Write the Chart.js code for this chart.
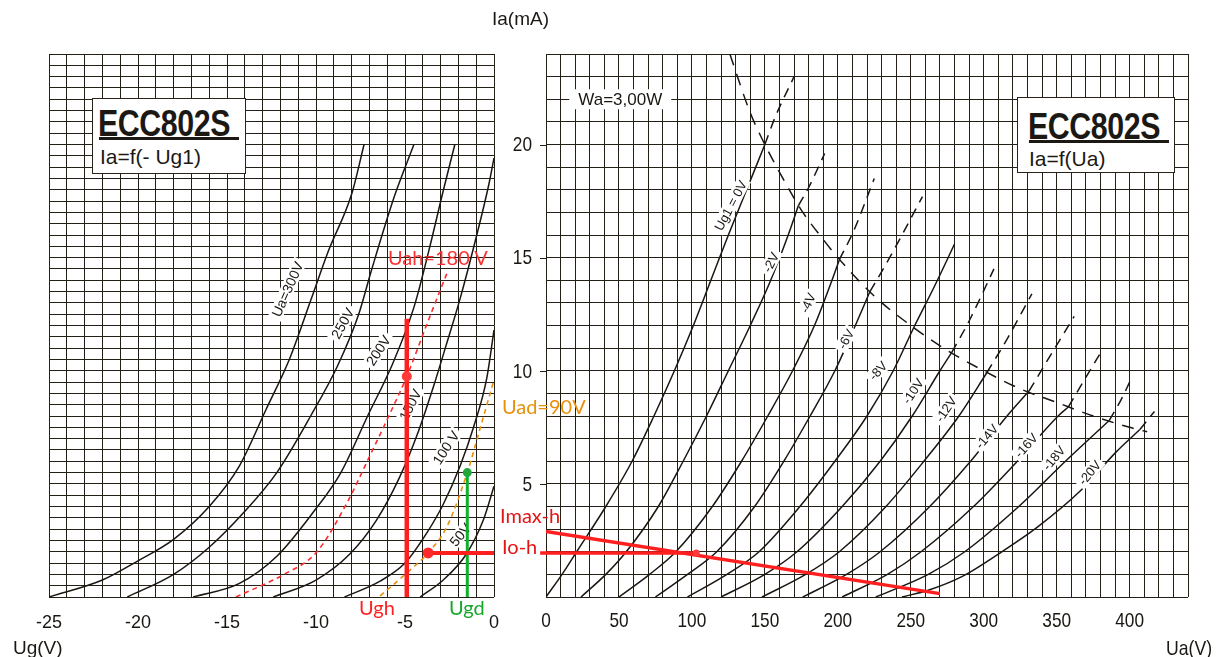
<!DOCTYPE html>
<html>
<head>
<meta charset="utf-8">
<title>ECC802S</title>
<script src="https://cdn.jsdelivr.net/npm/chart.js@4.4.1/dist/chart.umd.min.js"></script>
<style>
  html, body { margin: 0; padding: 0; background: #fff; }
  #wrap { position: relative; width: 1216px; height: 657px; overflow: hidden;
          font-family: 'Liberation Sans', Arial, sans-serif; color: #1c1914; }
  canvas { position: absolute; left: 0; top: 0; }
  .t { position: absolute; white-space: nowrap; line-height: 1; }
  .squeeze { transform: scaleX(0.84); transform-origin: 0 0; }
  .note { font-family: Lato, 'Open Sans', sans-serif; font-size: 20px; }
  .box { position: absolute; background: #fff; border: 1.5px solid #2a2418; box-sizing: border-box; }
  .box .big { position: absolute; left: 5px; top: 4px; font-weight: bold; font-size: 37px;
              letter-spacing: -0.5px; transform: scaleX(0.82); transform-origin: 0 0; }
  .box .rule { position: absolute; left: 6px; height: 2.5px; background: #1c1914; }
  .box .sub { position: absolute; left: 7px; font-size: 21px; }
</style>
</head>
<body>
<div id="wrap">
  <canvas id="leftChart" width="1216" height="657"></canvas>
  <canvas id="rightChart" width="1216" height="657"></canvas>

  <div class="box" style="left:92px;top:98px;width:154px;height:76px;">
    <div class="big">ECC802S</div>
    <div class="rule" style="top:38px;width:140px;"></div>
    <div class="sub" style="top:46px;">Ia=f(- Ug1)</div>
  </div>
  <div class="box" style="left:1017px;top:97px;width:158px;height:76px;">
    <div class="big" style="left:10px;top:8px;">ECC802S</div>
    <div class="rule" style="left:11px;top:42px;width:140px;"></div>
    <div class="sub" style="left:11px;top:49px;">Ia=f(Ua)</div>
  </div>

  <div class="t" style="left:492px;top:9px;font-size:19px;">Ia(mA)</div>
  <div class="t" style="left:13px;top:638px;font-size:19px;">Ug(V)</div>
  <div class="t squeeze" style="left:1166px;top:637px;font-size:21px;">Ua(V)</div>

  <div class="t note" style="left:388px;top:247px;color:#ff3030;">Uah=180 V</div>
  <div class="t note" style="left:502px;top:396px;color:#e8900c;">Uad=90V</div>
  <div class="t note" style="left:500px;top:505px;color:#e41414;">Imax-h</div>
  <div class="t note" style="left:502px;top:536px;color:#e41414;">Io-h</div>
  <div class="t note" style="left:359px;top:597px;color:#ff2020;">Ugh</div>
  <div class="t note" style="left:449px;top:597px;color:#16a82a;">Ugd</div>
</div>

<script>
// ---------- left panel: Ia = f(-Ug1), one curve per anode voltage [Ug (V), Ia (mA)]
const UA_300 = [[-25,0],[-22,0.75],[-20,1.6],[-18,2.55],[-16,4.0],[-14.3,5.8],[-12.8,8.3],[-11.5,10.5],[-10.3,13.1],[-9.3,15.3],[-8.0,17.8],[-7.3,20.0]];
const UA_250 = [[-20.6,0],[-18,1.0],[-16,2.2],[-14.1,3.7],[-12.2,5.5],[-10.3,8.0],[-8.8,10.2],[-7.6,12.5],[-6.9,14.4],[-5.6,17.7],[-4.5,20.0]];
const UA_200 = [[-16.9,0],[-14.3,0.6],[-12.2,1.8],[-10.2,3.7],[-8.6,5.5],[-7.1,8.0],[-5.7,10.3],[-4.5,12.8],[-3.6,15.5],[-2.9,17.8],[-2.2,20.0]];
const UA_150 = [[-12.4,0],[-10,0.75],[-8.1,1.9],[-6.6,3.4],[-5.3,5.3],[-4.3,7.2],[-3.4,9.3],[-2.7,11.1],[-1.9,13.2],[-1.0,15.9],[-0.3,18.2],[0,19.4]];
const UA_100 = [[-8.4,0],[-6.4,0.7],[-5.0,1.5],[-3.8,2.8],[-2.85,4.1],[-1.9,5.8],[-1.15,7.5],[-0.4,9.7],[0,11.8]];
const UA_50  = [[-4.15,0],[-2.85,0.75],[-1.55,1.9],[-0.6,3.4],[0,4.9]];
const UAH_180 = [[-14.5,0],[-11.8,1.0],[-10.0,1.95],[-8.3,4.1],[-7.0,6.2],[-5.85,8.1],[-4.9,9.75],[-3.75,12.1],[-2.65,14.3]];
const UAD_90  = [[-6.4,0.05],[-4.7,1.2],[-3.7,1.95],[-2.65,3.1],[-1.5,5.5],[-0.8,7.4],[0,9.6]];

const UGH_LINE  = [[-4.9,0],[-4.9,12.3]];
const UGH_POINT = [[-4.9,9.75]];
const IO_LEFT   = [[-3.7,1.95],[0,1.95]];
const IO_POINT  = [[-3.7,1.95]];
const UGD_LINE  = [[-1.5,0],[-1.5,5.5]];
const UGD_POINT = [[-1.5,5.5]];

// ---------- right panel: Ia = f(Ua), one curve per grid voltage [Ua (V), Ia (mA)]
const G0    = [[0,0],[11,1],[21,2],[41,4],[59,6],[74,8],[88,10],[101,12],[113,14],[125,16],[137.5,18],[150,20]];
const G0_X  = [[150,20],[157,21.2],[170,23]];
const G2    = [[24,0],[41,1],[55,2],[77,4],[94,6],[110,8],[125,10],[140,12],[154,14],[166,16],[173,17.3]];
const G2_X  = [[173,17.3],[180,18.1],[191,19.6]];
const G4    = [[50,0],[71,1],[89,2],[114,4],[134,6],[152,8],[169,10],[184,12],[196,14],[201,14.9]];
const G4_X  = [[201,14.9],[211,16.2],[225,18.5]];
const G6    = [[75,0],[97,1],[117,2],[143,4],[163,6],[181,8],[198,10],[212,12],[222,13.5]];
const G6_X  = [[222,13.5],[232,14.6],[244,16],[258,17.7]];
const G8    = [[97,0],[124,1],[146,2],[174,4],[198,6],[220,8],[238,10],[252,11.9],[266,13.7],[280,15.6]];
const G10   = [[120,0],[150,1],[172,2],[203,4],[229,6],[251,8],[270,10],[278,10.8]];
const G10_X = [[278,10.8],[290,12.2],[307,14.5]];
const G12   = [[148,0],[178,1],[201,2],[233,4],[259,6],[283,8],[302,9.9]];
const G12_X = [[302,9.9],[316,11.4],[333,13.4]];
const G14   = [[176,0],[206,1],[229,2],[263,4],[291,6],[316,8],[331,9.1]];
const G14_X = [[331,9.1],[345,10.6],[362,12.4]];
const G16   = [[203,0],[234,1],[257,2],[293,4],[323,6],[351,8],[358,8.4]];
const G16_X = [[358,8.4],[369,9.6],[382,11.0]];
const G18   = [[226,0],[262,1],[287,2],[324,4],[356,6],[386,7.8]];
const G18_X = [[386,7.8],[394,8.7],[400,9.5]];
const G20   = [[244,0],[262,0.3],[285,0.9],[310,1.9],[337,3.1],[367,4.74],[390,6.36],[407,7.4]];
const G20_X = [[407,7.4],[412,7.8],[417,8.2]];
const WA_3W = [[126,24],[140,21.4],[150,20],[165,18.2],[175,17.1],[190,15.8],[200,15],[225,13.3],[250,12],[275,10.9],[300,10],[325,9.2],[350,8.6],[375,8],[400,7.5],[412,7.3]];

const LOAD_LINE = [[0,2.9],[270,0.15]];
const IO_RIGHT  = [[-4,1.95],[103,1.95]];
const IO_OP     = [[103,1.95]];

// tick labels
const LEFT_X_LABELS  = [-25, -20, -15, -10, -5, 0];
const RIGHT_X_LABELS = [0, 50, 100, 150, 200, 250, 300, 350, 400];
const RIGHT_Y_LABELS = [5, 10, 15, 20];

const INK = '#1a1712';
const GRID = '#241f17';
const RED = '#ff1f1f';

Chart.defaults.font.family = "'Liberation Sans', Arial, sans-serif";
Chart.defaults.color = INK;

const toXY = pts => pts.map(p => ({ x: p[0], y: p[1] }));

function curve(pts, dashed) {
  return {
    data: toXY(pts), kind: 'curve', order: 10,
    borderColor: INK, borderWidth: 1.5, pointRadius: 0,
    borderDash: dashed ? [10, 7] : [], cubicInterpolationMode: 'monotone'
  };
}
function mark(pts, color, width, extra) {
  return Object.assign({
    data: toXY(pts), kind: 'mark', order: 1,
    borderColor: color, backgroundColor: color, borderWidth: width, pointRadius: 0
  }, extra || {});
}
function dot(pts, color, r) {
  return { data: toXY(pts), kind: 'mark', order: 0, showLine: false,
           pointRadius: r, pointBackgroundColor: color, pointBorderWidth: 0 };
}

// curve labels: white tag rotated along the curve, drawn before the red marks
function drawTags(chart, opts) {
  const ctx = chart.ctx, xs = chart.scales.x, ys = chart.scales.y;
  opts.items.forEach(t => {
    ctx.save();
    ctx.translate(xs.getPixelForValue(t.x), ys.getPixelForValue(t.y));
    ctx.rotate((t.angle || 0) * Math.PI / 180);
    ctx.font = t.font || opts.font;
    const w = ctx.measureText(t.text).width;
    const h = t.h || 14, pad = t.pad || 3;
    ctx.fillStyle = '#fff';
    ctx.fillRect(-w / 2 - pad, -h / 2, w + 2 * pad, h);
    ctx.fillStyle = INK;
    ctx.textAlign = 'center';
    ctx.textBaseline = 'middle';
    ctx.fillText(t.text, 0, 1);
    ctx.restore();
  });
}
const tagPlugin = {
  id: 'curveTags',
  beforeDatasetsDraw(chart) { chart.$tagsDone = false; },
  beforeDatasetDraw(chart, args, opts) {
    if (chart.$tagsDone || chart.data.datasets[args.index].kind !== 'mark') return;
    drawTags(chart, opts);
    chart.$tagsDone = true;
  },
  afterDatasetsDraw(chart, args, opts) {
    if (!chart.$tagsDone) { drawTags(chart, opts); chart.$tagsDone = true; }
  }
};

// condensed tick numbers of the right panel (no narrow font installed, so squeeze them)
const narrowTicks = {
  id: 'narrowTicks',
  afterDraw(chart, args, opts) {
    if (!opts.x) return;
    const ctx = chart.ctx, xs = chart.scales.x, ys = chart.scales.y;
    const area = chart.chartArea;
    ctx.save();
    ctx.font = opts.size + "px 'Liberation Sans', Arial";
    ctx.fillStyle = INK;
    ctx.textBaseline = 'middle';
    ctx.textAlign = 'center';
    opts.x.forEach(v => {
      ctx.save();
      ctx.translate(xs.getPixelForValue(v), area.bottom + 24);
      ctx.scale(opts.squeeze, 1);
      ctx.fillText(String(v), 0, 0);
      ctx.restore();
    });
    ctx.textAlign = 'right';
    opts.y.forEach(v => {
      const py = ys.getPixelForValue(v);
      ctx.save();
      ctx.translate(area.left - 14, py + 1);
      ctx.scale(opts.squeeze, 1);
      ctx.fillText(String(v), 0, 0);
      ctx.restore();
      ctx.strokeStyle = GRID;
      ctx.lineWidth = 1;
      ctx.beginPath();
      ctx.moveTo(area.left - 6, Math.round(py) + 0.5);
      ctx.lineTo(area.left, Math.round(py) + 0.5);
      ctx.stroke();
    });
    ctx.restore();
  }
};

function axes(xMin, xMax, xStep, yStep, xLabels, showX) {
  return {
    x: {
      type: 'linear', min: xMin, max: xMax,
      afterFit: s => { s.height = 60; },
      grid: { color: GRID, lineWidth: 1, drawTicks: false },
      border: { display: false },
      ticks: {
        display: showX,
        stepSize: xStep, autoSkip: false, maxRotation: 0, padding: 15,
        font: { size: 18 }, color: INK,
        callback: v => xLabels.includes(v) ? String(v) : ''
      }
    },
    y: {
      type: 'linear', min: 0, max: 24,
      afterFit: s => { s.width = 0; },
      grid: { color: GRID, lineWidth: 1, drawTicks: false },
      border: { display: false },
      ticks: { stepSize: yStep, autoSkip: false, display: false }
    }
  };
}

const common = {
  responsive: false, animation: false, devicePixelRatio: 1
};

new Chart(document.getElementById('leftChart'), {
  type: 'line',
  plugins: [tagPlugin],
  data: {
    datasets: [
      curve(UA_300), curve(UA_250), curve(UA_200), curve(UA_150), curve(UA_100), curve(UA_50),
      mark(UAH_180, '#ff2a2a', 1.6, { borderDash: [5, 4], cubicInterpolationMode: 'monotone', order: 3 }),
      mark(UAD_90, '#e8900c', 1.6, { borderDash: [5, 4], cubicInterpolationMode: 'monotone', order: 3 }),
      mark(UGH_LINE, RED, 4.5),
      mark(IO_LEFT, RED, 4),
      mark(UGD_LINE, '#10b02a', 3),
      dot(UGH_POINT, '#ff3a3a', 5),
      dot(IO_POINT, '#ff2a2a', 5.5),
      dot(UGD_POINT, '#22a83a', 4.5)
    ]
  },
  options: Object.assign({}, common, {
    layout: { padding: { left: 49, right: 722, top: 54, bottom: 0 } },
    plugins: {
      legend: { display: false }, tooltip: { enabled: false },
      curveTags: {
        font: "14px 'Liberation Sans', Arial",
        items: [
          { text: 'Ua=300V', x: -11.6, y: 13.6, angle: -66 },
          { text: '250V', x: -8.5, y: 12.1, angle: -61 },
          { text: '200V', x: -6.5, y: 10.9, angle: -57 },
          { text: '150V', x: -4.7, y: 8.5, angle: -63 },
          { text: '100 V', x: -2.7, y: 6.6, angle: -57 },
          { text: '50V', x: -1.9, y: 2.75, angle: -50 }
        ]
      }
    },
    scales: axes(-25, 0, 1, 0.5, LEFT_X_LABELS, true)
  })
});

new Chart(document.getElementById('rightChart'), {
  type: 'line',
  plugins: [tagPlugin, narrowTicks],
  data: {
    datasets: [
      curve(G0), curve(G0_X, true), curve(G2), curve(G2_X, true),
      curve(G4), curve(G4_X, true), curve(G6), curve(G6_X, true),
      curve(G8), curve(G10), curve(G10_X, true), curve(G12), curve(G12_X, true),
      curve(G14), curve(G14_X, true), curve(G16), curve(G16_X, true),
      curve(G18), curve(G18_X, true), curve(G20), curve(G20_X, true),
      Object.assign(curve(WA_3W, true), { borderDash: [12, 9] }),
      mark(LOAD_LINE, RED, 3.5),
      mark(IO_RIGHT, RED, 3.5, { clip: false }),
      dot(IO_OP, '#ff3a3a', 3.5)
    ]
  },
  options: Object.assign({}, common, {
    layout: { padding: { left: 546, right: 28, top: 54, bottom: 0 } },
    plugins: {
      legend: { display: false }, tooltip: { enabled: false },
      narrowTicks: { x: RIGHT_X_LABELS, y: RIGHT_Y_LABELS, size: 21, squeeze: 0.82 },
      curveTags: {
        font: "13px 'Liberation Sans', Arial",
        items: [
          { text: 'Wa=3,00W', x: 50.9, y: 22.0, angle: 0, font: "17px 'Liberation Sans', Arial", h: 20, pad: 9 },
          { text: 'Ug1 = 0V', x: 126.5, y: 17.3, angle: -62 },
          { text: '-2V', x: 154, y: 14.8, angle: -63 },
          { text: '-4V', x: 179.4, y: 13.0, angle: -65 },
          { text: '-6V', x: 205.5, y: 11.4, angle: -61 },
          { text: '-8V', x: 227.5, y: 10.0, angle: -48 },
          { text: '-10V', x: 251.5, y: 9.1, angle: -56 },
          { text: '-12V', x: 274, y: 8.3, angle: -56 },
          { text: '-14V', x: 302, y: 7.1, angle: -50 },
          { text: '-16V', x: 329, y: 6.7, angle: -48 },
          { text: '-18V', x: 348, y: 6.15, angle: -50 },
          { text: '-20V', x: 372.5, y: 5.5, angle: -50 }
        ]
      }
    },
    scales: axes(0, 440, 10, 1, RIGHT_X_LABELS, false)
  })
});
</script>
</body>
</html>
